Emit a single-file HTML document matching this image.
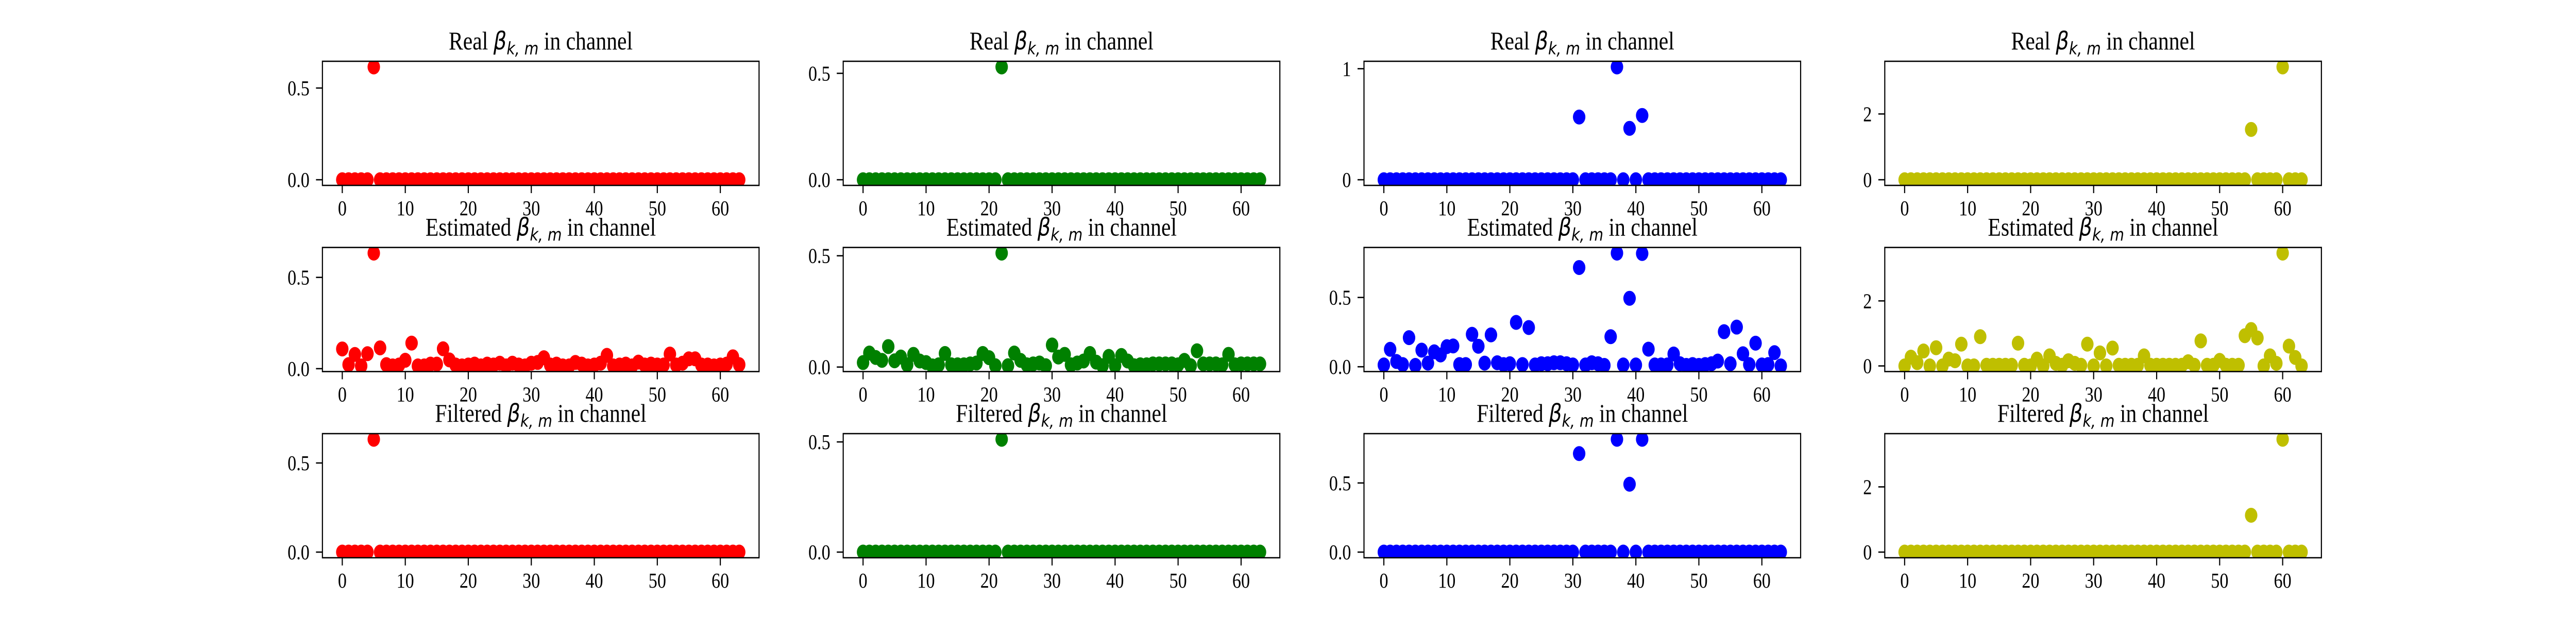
<!DOCTYPE html>
<html><head><meta charset="utf-8"><title>Beta channel scatter grid</title>
<style>html,body{margin:0;padding:0;background:#fff;overflow:hidden;width:100%;height:100%;}svg{display:block;width:100vw;height:100vh;}</style>
</head><body>
<svg id="chart" xmlns="http://www.w3.org/2000/svg" viewBox="0 0 6000 1200" preserveAspectRatio="none">
<rect x="0" y="0" width="6000" height="1200" fill="#fff"/>
</svg>
<script>
const categories = [0,1,2,3,4,5,6,7,8,9,10,11,12,13,14,15,16,17,18,19,20,21,22,23,24,25,26,27,28,29,30,31,32,33,34,35,36,37,38,39,40,41,42,43,44,45,46,47,48,49,50,51,52,53,54,55,56,57,58,59,60,61,62,63];
const xTicks = [0,10,20,30,40,50,60];

const realRed = [0,0,0,0,0,0.615,0,0, 0,0,0,0,0,0,0,0, 0,0,0,0,0,0,0,0, 0,0,0,0,0,0,0,0, 0,0,0,0,0,0,0,0, 0,0,0,0,0,0,0,0, 0,0,0,0,0,0,0,0, 0,0,0,0,0,0,0,0];
const estRed = [0.108,0.022,0.078,0.015,0.082,0.633,0.114,0.022, 0.015,0.020,0.046,0.140,0.015,0.015,0.025,0.025, 0.109,0.048,0.020,0.015,0.020,0.025,0.015,0.025, 0.020,0.030,0.015,0.030,0.020,0.015,0.030,0.034, 0.060,0.020,0.025,0.015,0.015,0.034,0.025,0.015, 0.020,0.030,0.073,0.015,0.020,0.025,0.015,0.036, 0.020,0.025,0.020,0.020,0.080,0.020,0.030,0.054, 0.054,0.020,0.020,0.015,0.020,0.025,0.065,0.022];
const filtRed = [0,0,0,0,0,0.633,0,0, 0,0,0,0,0,0,0,0, 0,0,0,0,0,0,0,0, 0,0,0,0,0,0,0,0, 0,0,0,0,0,0,0,0, 0,0,0,0,0,0,0,0, 0,0,0,0,0,0,0,0, 0,0,0,0,0,0,0,0];

const realGreen = [0,0,0,0,0,0,0,0, 0,0,0,0,0,0,0,0, 0,0,0,0,0,0,0.53,0, 0,0,0,0,0,0,0,0, 0,0,0,0,0,0,0,0, 0,0,0,0,0,0,0,0, 0,0,0,0,0,0,0,0, 0,0,0,0,0,0,0,0];
const estGreen = [0.020,0.063,0.043,0.030,0.092,0.028,0.045,0.010, 0.057,0.027,0.020,0.005,0.010,0.061,0.010,0.010, 0.010,0.014,0.018,0.061,0.042,0.006,0.512,0.006, 0.063,0.030,0.010,0.014,0.018,0.006,0.099,0.045, 0.057,0.010,0.018,0.027,0.061,0.022,0.006,0.048, 0.006,0.052,0.027,0.006,0.010,0.010,0.014,0.014, 0.014,0.014,0.010,0.030,0.006,0.073,0.014,0.014, 0.014,0.010,0.057,0.010,0.014,0.014,0.014,0.014];
const filtGreen = [0,0,0,0,0,0,0,0, 0,0,0,0,0,0,0,0, 0,0,0,0,0,0,0.512,0, 0,0,0,0,0,0,0,0, 0,0,0,0,0,0,0,0, 0,0,0,0,0,0,0,0, 0,0,0,0,0,0,0,0, 0,0,0,0,0,0,0,0];

const realBlue = [0,0,0,0,0,0,0,0, 0,0,0,0,0,0,0,0, 0,0,0,0,0,0,0,0, 0,0,0,0,0,0,0,0.565, 0,0,0,0,0,1.016,0,0.463, 0,0.579,0,0,0,0,0,0, 0,0,0,0,0,0,0,0, 0,0,0,0,0,0,0,0];
const estBlue = [0.013,0.126,0.038,0.016,0.210,0.010,0.120,0.026, 0.108,0.085,0.145,0.150,0.016,0.016,0.234,0.148, 0.026,0.230,0.029,0.016,0.022,0.320,0.016,0.283, 0.013,0.022,0.022,0.029,0.029,0.022,0.013,0.716, 0.013,0.029,0.022,0.010,0.217,0.820,0.013,0.494, 0.013,0.817,0.127,0.013,0.013,0.013,0.092,0.022, 0.010,0.016,0.010,0.016,0.022,0.041,0.253,0.022, 0.286,0.094,0.016,0.170,0.013,0.016,0.102,0.006];
const filtBlue = [0,0,0,0,0,0,0,0, 0,0,0,0,0,0,0,0, 0,0,0,0,0,0,0,0, 0,0,0,0,0,0,0,0.7125, 0,0,0,0,0,0.816,0,0.491, 0,0.816,0,0,0,0,0,0, 0,0,0,0,0,0,0,0, 0,0,0,0,0,0,0,0];

const realYellow = [0,0,0,0,0,0,0,0, 0,0,0,0,0,0,0,0, 0,0,0,0,0,0,0,0, 0,0,0,0,0,0,0,0, 0,0,0,0,0,0,0,0, 0,0,0,0,0,0,0,0, 0,0,0,0,0,0,0,1.53, 0,0,0,0,3.43,0,0,0];
const estYellow = [0,0.27,0.10,0.46,0,0.56,0,0.21, 0.16,0.67,0,0,0.90,0.02,0.02,0.02, 0.02,0.02,0.70,0.02,0,0.21,0,0.31, 0.08,0.02,0.16,0.08,0.02,0.67,0,0.40, 0,0.55,0.02,0.02,0.02,0.02,0.31,0.02, 0.02,0.02,0.02,0.02,0.02,0.13,0.02,0.77, 0.02,0.02,0.17,0.02,0.02,0.02,0.93,1.12, 0.86,0,0.31,0.08,3.47,0.61,0.26,0];
const filtYellow = [0,0,0,0,0,0,0,0, 0,0,0,0,0,0,0,0, 0,0,0,0,0,0,0,0, 0,0,0,0,0,0,0,0, 0,0,0,0,0,0,0,0, 0,0,0,0,0,0,0,0, 0,0,0,0,0,0,0,1.13, 0,0,0,0,3.46,0,0,0];

const rowTitles = ["Real","Estimated","Filtered"];
const colNames = ["red","green","blue","yellow"];
const colColors = ["#ff0000","#008000","#0000ff","#bfbf00"];
const tickValsRed = [0,0.5]; const tickLabelsRed = ["0.0","0.5"];
const tickValsGreen = [0,0.5]; const tickLabelsGreen = ["0.0","0.5"];
const tickValsBlueReal = [0,1]; const tickLabelsBlueReal = ["0","1"];
const tickValsBlue = [0,0.5]; const tickLabelsBlue = ["0.0","0.5"];
const tickValsYellow = [0,2]; const tickLabelsYellow = ["0","2"];

const seriesGrid = [[realRed,estRed,filtRed],[realGreen,estGreen,filtGreen],[realBlue,estBlue,filtBlue],[realYellow,estYellow,filtYellow]];
const yTickGrid = [
  [[tickValsRed,tickLabelsRed],[tickValsRed,tickLabelsRed],[tickValsRed,tickLabelsRed]],
  [[tickValsGreen,tickLabelsGreen],[tickValsGreen,tickLabelsGreen],[tickValsGreen,tickLabelsGreen]],
  [[tickValsBlueReal,tickLabelsBlueReal],[tickValsBlue,tickLabelsBlue],[tickValsBlue,tickLabelsBlue]],
  [[tickValsYellow,tickLabelsYellow],[tickValsYellow,tickLabelsYellow],[tickValsYellow,tickLabelsYellow]]
];

const NS = "http://www.w3.org/2000/svg";
const svg = document.getElementById("chart");
const AX_LEFT0 = 751, AX_DX = 1213, AX_W = 1017, AX_TOP0 = 119, AX_DY = 361.5, AX_H = 241;
const R = 14.5;
function mk(tag, attrs, parent){ const e=document.createElementNS(NS,tag); for(const k in attrs) e.setAttribute(k,attrs[k]); (parent||svg).appendChild(e); return e; }

const defs = mk("defs",{});
for (let c=0;c<4;c++){
  for (let r=0;r<3;r++){
    const L = AX_LEFT0 + c*AX_DX, T = AX_TOP0 + r*AX_DY;
    const vals = seriesGrid[c][r];
    const cats = categories.slice(0, vals.length);
    const xmin = Math.min(...cats), xmax = Math.max(...cats), xm = (xmax-xmin)*0.05;
    const ymin = Math.min(...vals), ymax = Math.max(...vals), ym = (ymax-ymin)*0.05;
    const x0 = xmin-xm, x1 = xmax+xm, y0 = ymin-ym, y1 = ymax+ym;
    const xScale = v => L + (v-x0)/(x1-x0)*AX_W;
    const yScale = v => T + AX_H - (v-y0)/(y1-y0)*AX_H;

    const g = mk("g",{});
    
    

    const cp = mk("clipPath",{id:"clip"+c+"_"+r}, defs);
    mk("rect",{x:L,y:T,width:AX_W,height:AX_H},cp);

    const pts = mk("g",{"clip-path":"url(#clip"+c+"_"+r+")"}, g);
    
    
    for (let i=0;i<vals.length;i++){
      const dot = mk("circle",{cx:xScale(cats[i]).toFixed(2),cy:yScale(vals[i]).toFixed(2),r:R,fill:colColors[c]},pts);
      
      
    }

    const frame = mk("rect",{x:L,y:T,width:AX_W,height:AX_H,fill:"none",stroke:"#000","stroke-width":2.6},g);
    
    

    for (const t of xTicks){
      const xx = xScale(t);
      const tk = mk("line",{x1:xx,y1:T+AX_H,x2:xx,y2:T+AX_H+15,stroke:"#000","stroke-width":2.6},g);
      
      
      const tl = mk("text",{x:xx,y:T+AX_H+58,"text-anchor":"middle","font-family":"Liberation Serif, serif","font-size":41,fill:"#000"},g);
      
      
      tl.textContent = String(t);
    }
    const [tv, tlbl] = yTickGrid[c][r];
    for (let k=0;k<tv.length;k++){
      const yy = yScale(tv[k]);
      const tk = mk("line",{x1:L-15,y1:yy,x2:L,y2:yy,stroke:"#000","stroke-width":2.6},g);
      
      
      const tl = mk("text",{x:L-30,y:yy+14,"text-anchor":"end","font-family":"Liberation Serif, serif","font-size":41,fill:"#000"},g);
      
      
      tl.textContent = tlbl[k];
    }

    const title = mk("text",{x:L+AX_W/2,y:T-23,"text-anchor":"middle","font-family":"Liberation Serif, serif","font-size":50,fill:"#000"},g);
    
    
    const s1 = mk("tspan",{},title); s1.textContent = rowTitles[r] + " ";
    const s2 = mk("tspan",{"font-family":"DejaVu Sans, sans-serif","font-style":"italic","font-size":48},title); s2.textContent = "β";
    const s3 = mk("tspan",{"font-family":"DejaVu Sans, sans-serif","font-style":"italic","font-size":34,dy:10},title); s3.textContent = "k, m";
    const s4 = mk("tspan",{dy:-10},title); s4.textContent = " in channel";
  }
}
</script>
</body></html>
